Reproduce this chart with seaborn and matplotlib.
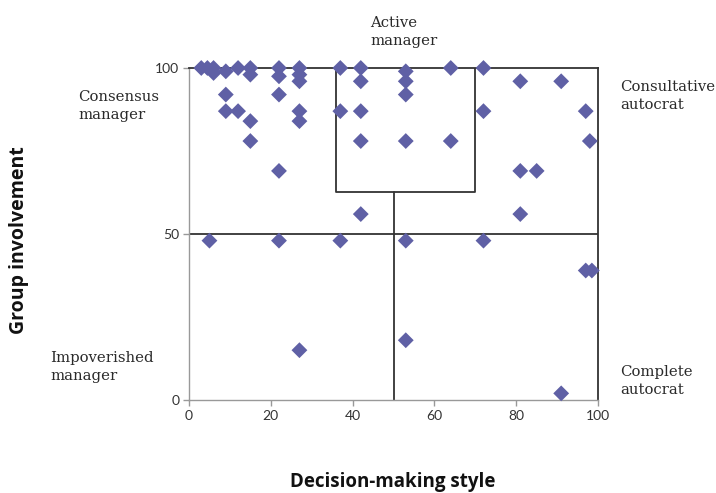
import matplotlib
matplotlib.use("Agg")
import matplotlib.pyplot as plt
import seaborn as sns
import pandas as pd

# Data
decision_style = [3, 4.5, 6, 6, 9, 12, 15, 15, 22, 22, 27, 27, 27,
                  9, 9, 12, 15, 15, 22, 22, 27, 27,
                  37, 42, 42, 53, 53, 53, 64, 72,
                  37, 42, 72, 42, 53, 64,
                  81, 91, 97, 98, 81, 85,
                  42, 81,
                  5, 22, 37, 53, 72,
                  97, 98.5,
                  27, 53, 91]
group_involvement = [100, 100, 100, 98.5, 99, 100, 100, 98, 100, 97.5, 100, 98, 96,
                     92, 87, 87, 84, 78, 92, 69, 87, 84,
                     100, 100, 96, 99, 96, 92, 100, 100,
                     87, 87, 87, 78, 78, 78,
                     96, 96, 87, 78, 69, 69,
                     56, 56,
                     48, 48, 48, 48, 48,
                     39, 39,
                     15, 18, 2]
x_ticks = [0, 20, 40, 60, 80, 100]
y_ticks = [0, 50, 100]
quadrant_labels = ["Active\nmanager", "Consensus\nmanager", "Consultative\nautocrat",
                   "Impoverished\nmanager", "Complete\nautocrat"]

df = pd.DataFrame({"x": decision_style, "y": group_involvement})

sns.set_style("white")
W, H = 716, 493
fig = plt.figure(figsize=(W / 100, H / 100), dpi=100)
ax = fig.add_axes([189 / W, 1 - 400 / H, (598 - 189) / W, (400 - 68) / H])

line_col = "#333333"
ax.plot([0, 100], [50, 50], color=line_col, lw=1.3, zorder=1)
ax.plot([50, 50], [0, 62.5], color=line_col, lw=1.3, zorder=1)
ax.plot([36, 36, 70, 70], [100, 62.5, 62.5, 100], color=line_col, lw=1.3, zorder=1)

sns.scatterplot(data=df, x="x", y="y", marker="D", s=65, color="#5f60a5",
                edgecolor="none", ax=ax, clip_on=False, zorder=3)

ax.set_xlim(0, 100)
ax.set_ylim(0, 100)
ax.set_xticks(x_ticks)
ax.set_yticks(y_ticks)
ax.set_xlabel("")
ax.set_ylabel("")
for s in ["left", "bottom"]:
    ax.spines[s].set_color("#999999")
    ax.spines[s].set_linewidth(1.0)
for s in ["top", "right"]:
    ax.spines[s].set_color(line_col)
    ax.spines[s].set_linewidth(1.3)
ax.tick_params(axis="both", which="major", direction="out", length=4, width=1,
               color="#999999", labelsize=10, labelcolor="#333333", pad=3,
               left=True, bottom=True)
for lab in ax.get_xticklabels() + ax.get_yticklabels():
    lab.set_family("Lato")

serif = "DejaVu Serif"
pos = [(370, 32), (78, 106), (620, 96), (50, 367), (620, 381)]
for (px, py), t in zip(pos, quadrant_labels):
    fig.text(px / W, 1 - py / H, t, ha="left", va="center", fontsize=10.7,
             family=serif, color="#2a2a2a", linespacing=1.35)

fig.text(393 / W, 1 - 482 / H, "Decision-making style", ha="center", va="center",
         fontsize=13.5, fontweight="bold", family="Open Sans", color="#111111")
fig.text(19 / W, 1 - 240 / H, "Group involvement", ha="center", va="center",
         rotation=90, fontsize=14, fontweight="bold", family="Open Sans", color="#111111")

fig.savefig("out.png", dpi=100)
